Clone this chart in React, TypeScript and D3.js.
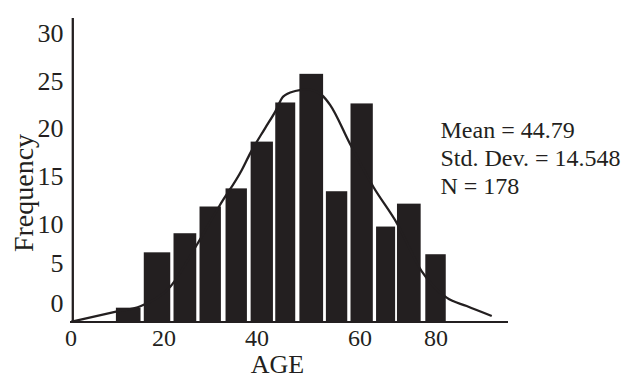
import React, { useEffect, useRef } from 'react';
import * as d3 from 'd3';

// histogram bins (age) and frequencies
const binStarts = [9.6, 15.6, 22.0, 27.6, 33.2, 38.6, 43.9, 49.1, 54.8, 60.1, 65.6, 70.1, 76.2];
const binEnds = [14.9, 21.3, 26.9, 32.2, 37.8, 43.4, 48.2, 54.2, 59.4, 64.9, 69.7, 75.2, 80.6];
const counts = [1.5, 7.3, 9.3, 12.1, 14.0, 18.9, 23.0, 26.0, 13.7, 22.9, 10.0, 12.4, 7.1];

// normal curve, traced
const curveAge = [0, 9.4, 15.0, 21.3, 27.0, 32.0, 36.7, 38.5, 41.7, 43.9, 45.6, 48.2, 50.7, 53.9, 55.7, 60.0, 65.0, 70.1, 75.4, 80.8, 85.1, 90.5];
const curveFreq = [0.03, 1.05, 1.68, 3.7, 8.07, 12.26, 15.93, 17.67, 20.29, 22.04, 23.61, 24.2, 24.38, 23.78, 22.74, 18.65, 14.17, 10.34, 5.34, 2.55, 1.67, 0.63];

const xTicks = [0, 20, 40, 60, 80];
const yTicks = [0, 5, 10, 15, 20, 25, 30];
const stats = ['Mean = 44.79', 'Std. Dev. = 14.548', 'N = 178'];

const W = 625;
const H = 379;
const INK = '#231f20';
const FONT = '"Liberation Serif", "Times New Roman", serif';

export default function App() {
	const ref = useRef<SVGSVGElement>(null);

	useEffect(() => {
		const svg = d3.select(ref.current);
		svg.selectAll('*').remove();

		const x = d3.scaleLinear().domain([0, 94]).range([71.3, 508]);
		const y = d3.scaleLinear().domain([0, 31.85]).range([322, 18]);
		// the printed tick labels do not sit evenly on the axes
		const xLab = d3.scaleLinear().domain([0, 40, 60, 80]).range([71, 257, 360, 436]);
		const yLab = d3.scaleLinear().domain([0, 10, 30]).range([303, 224, 33]);

		const g = svg.append('g');

		// bars
		g.selectAll('rect.bar')
			.data(counts)
			.enter()
			.append('rect')
			.attr('class', 'bar')
			.attr('x', (d, i) => x(binStarts[i]))
			.attr('width', (d, i) => x(binEnds[i]) - x(binStarts[i]))
			.attr('y', d => y(d))
			.attr('height', d => y(0) - y(d))
			.attr('fill', INK);

		// curve
		const pts = curveAge.map((a, i) => [a, curveFreq[i]] as [number, number]);
		const line = d3
			.line<[number, number]>()
			.x(d => x(d[0]))
			.y(d => y(d[1]))
			.curve(d3.curveMonotoneX);
		g.append('path')
			.attr('d', line(pts))
			.attr('fill', 'none')
			.attr('stroke', INK)
			.attr('stroke-width', 2.3);

		// axes
		g.append('line')
			.attr('x1', x(0) + 1.5)
			.attr('x2', x(0) + 1.5)
			.attr('y1', y(31.85))
			.attr('y2', y(0) + 1)
			.attr('stroke', INK)
			.attr('stroke-width', 2.3);
		g.append('line')
			.attr('x1', 70)
			.attr('x2', x(94))
			.attr('y1', y(0))
			.attr('y2', y(0))
			.attr('stroke', INK)
			.attr('stroke-width', 2.2);

		g.selectAll('text.xt')
			.data(xTicks)
			.enter()
			.append('text')
			.attr('class', 'xt')
			.attr('x', d => xLab(d))
			.attr('y', 345.5)
			.attr('text-anchor', 'middle')
			.attr('font-size', 24)
			.text(d => d);

		g.selectAll('text.yt')
			.data(yTicks)
			.enter()
			.append('text')
			.attr('class', 'yt')
			.attr('x', 63.5)
			.attr('y', d => yLab(d))
			.attr('dy', '0.34em')
			.attr('text-anchor', 'end')
			.attr('font-size', 26)
			.text(d => d);

		g.append('text')
			.attr('transform', 'translate(32.5,193) rotate(-90)')
			.attr('text-anchor', 'middle')
			.attr('font-size', 28)
			.text('Frequency');

		g.append('text')
			.attr('x', 277.5)
			.attr('y', 373)
			.attr('text-anchor', 'middle')
			.attr('font-size', 26)
			.text('AGE');

		g.selectAll('text.st')
			.data(stats)
			.enter()
			.append('text')
			.attr('class', 'st')
			.attr('x', 440.5)
			.attr('y', (d, i) => 137.7 + i * 28.3)
			.attr('font-size', 24)
			.text(d => d);

		g.selectAll('text').attr('fill', INK).attr('font-family', FONT);
	}, []);

	return (
		<svg
			ref={ref}
			width={W}
			height={H}
			style={{ position: 'absolute', left: 0, top: 0, background: '#fff' }}
		/>
	);
}
